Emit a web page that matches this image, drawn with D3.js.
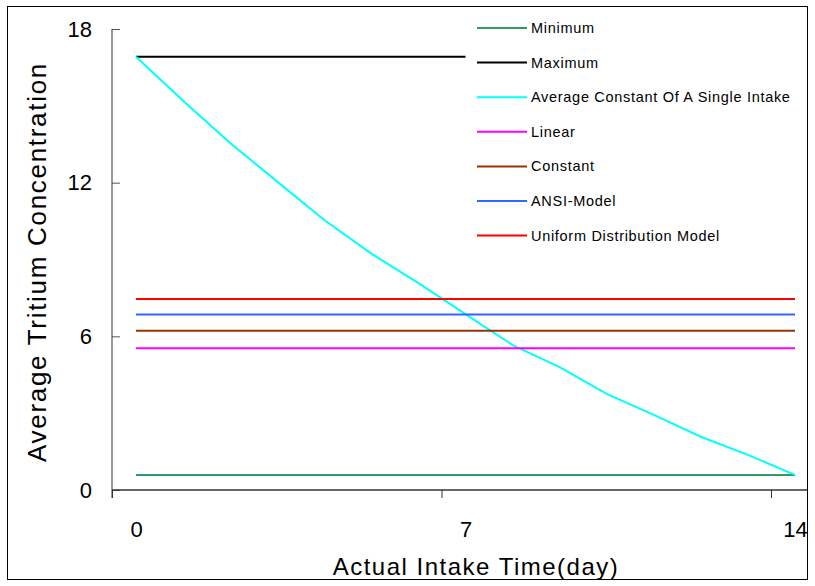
<!DOCTYPE html>
<html>
<head>
<meta charset="utf-8">
<script src="https://cdn.jsdelivr.net/npm/d3@7"></script>
<style>
  body { margin: 0; background: #fff; }
  svg { display: block; font-family: Arial, "Liberation Sans", sans-serif; }
</style>
</head>
<body>
<div id="chart"></div>
<script>
// values
const intakeDays = [0, 1, 2, 3, 4, 5, 6, 7, 8, 9, 10, 11, 12, 13, 14];
const singleIntakeValues = [16.92, 15.2, 13.55, 12.04, 10.54, 9.23, 8.08, 6.87, 5.66, 4.8, 3.75, 2.93, 2.08, 1.37, 0.59];

const fullSpanDays = [0, 14];
const halfSpanDays = [0, 7];
const minimumValues = [0.59, 0.59];
const maximumValues = [16.92, 16.92];
const linearValues = [5.53, 5.53];
const constantValues = [6.22, 6.22];
const ansiValues = [6.85, 6.85];
const uniformValues = [7.46, 7.46];

const seriesNames = [
  "Minimum",
  "Maximum",
  "Average Constant Of A Single Intake",
  "Linear",
  "Constant",
  "ANSI-Model",
  "Uniform Distribution Model"
];
const seriesColors = ["#339966", "#000000", "#00ffff", "#ff00ff", "#993300", "#3366ff", "#ff0000"];

const xTickValues = [0, 7, 14];
const yTickValues = [0, 6, 12, 18];
const xTitle = "Actual Intake Time(day)";
const yTitle = "Average Tritium Concentration";

const width = 815;
const height = 586;

function toPoints(days, values) {
  return days.map((d, i) => ({ day: d, value: values[i] }));
}

const series = [
  toPoints(fullSpanDays, minimumValues),
  toPoints(halfSpanDays, maximumValues),
  toPoints(intakeDays, singleIntakeValues),
  toPoints(fullSpanDays, linearValues),
  toPoints(fullSpanDays, constantValues),
  toPoints(fullSpanDays, ansiValues),
  toPoints(fullSpanDays, uniformValues)
];

function plot() {
  const axisLeft = 112;
  const axisBottom = 490;
  const categoryOffset = 24; // excel-style: labels sit between tick marks

  const svg = d3.select("#chart")
    .append("svg")
    .attr("width", width)
    .attr("height", height);

  // outer frame
  svg.append("rect")
    .attr("x", 7.5).attr("y", 6.5)
    .attr("width", 800).attr("height", 573)
    .attr("fill", "none")
    .attr("stroke", "#000")
    .attr("stroke-width", 1);

  const x = d3.scaleLinear()
    .domain([0, 14])
    .range([axisLeft + categoryOffset, 795]);

  const xTicks = x.copy().range(x.range().map(r => r - categoryOffset));

  const y = d3.scaleLinear()
    .domain([0, 18])
    .range([axisBottom, 29]);

  // y axis, ticks pointing inward
  svg.append("g")
    .attr("transform", `translate(${axisLeft},0)`)
    .call(d3.axisLeft(y).tickValues(yTickValues).tickSizeInner(-8).tickSizeOuter(0).tickPadding(20))
    .call(g => g.select(".domain").remove())
    .call(g => g.selectAll(".tick line").attr("stroke", "#555"))
    .call(g => g.selectAll(".tick text")
      .attr("font-size", 22)
      .attr("font-family", "Arial, 'Liberation Sans', sans-serif")
      .attr("fill", "#000"));

  svg.append("line")
    .attr("x1", axisLeft).attr("x2", axisLeft)
    .attr("y1", y(18)).attr("y2", axisBottom + 8)
    .attr("stroke", "#333");

  // x axis: labels under data positions, tick marks shifted left
  svg.append("g")
    .attr("transform", `translate(0,${axisBottom})`)
    .call(d3.axisBottom(x).tickValues(xTickValues).tickSize(0).tickPadding(31))
    .call(g => g.select(".domain").remove())
    .call(g => g.selectAll(".tick text")
      .attr("font-size", 22)
      .attr("font-family", "Arial, 'Liberation Sans', sans-serif")
      .attr("fill", "#000"));

  svg.append("g")
    .attr("transform", `translate(0,${axisBottom})`)
    .call(d3.axisBottom(xTicks).tickValues(xTickValues).tickFormat("").tickSizeInner(8).tickSizeOuter(0))
    .call(g => g.select(".domain").remove())
    .call(g => g.selectAll(".tick line").attr("stroke", "#333"));

  svg.append("line")
    .attr("x1", axisLeft).attr("x2", 807)
    .attr("y1", axisBottom).attr("y2", axisBottom)
    .attr("stroke", "#333")
    .attr("stroke-width", 1.5);

  // series lines
  const line = d3.line()
    .x(d => x(d.day))
    .y(d => y(d.value));

  svg.append("g")
    .attr("fill", "none")
    .attr("stroke-width", 2)
    .selectAll("path")
    .data(series)
    .join("path")
      .attr("stroke", (d, i) => seriesColors[i])
      .attr("d", line);

  // legend (no box)
  const legend = svg.append("g")
    .selectAll("g")
    .data(seriesNames)
    .join("g")
      .attr("transform", (d, i) => `translate(477,${28 + i * 34.6})`);

  legend.append("line")
    .attr("x1", 0).attr("x2", 50)
    .attr("stroke", (d, i) => seriesColors[i])
    .attr("stroke-width", 2);

  legend.append("text")
    .attr("x", 54)
    .attr("dy", "0.35em")
    .attr("font-size", 14.5)
    .attr("letter-spacing", 0.7)
    .attr("fill", "#000")
    .text(d => d);

  // axis titles
  svg.append("text")
    .attr("x", 476)
    .attr("y", 575)
    .attr("text-anchor", "middle")
    .attr("font-size", 24)
    .attr("letter-spacing", 1.5)
    .text(xTitle);

  svg.append("text")
    .attr("transform", `translate(46,262) rotate(-90)`)
    .attr("text-anchor", "middle")
    .attr("font-size", 26)
    .attr("letter-spacing", 1.7)
    .text(yTitle);
}

plot();
</script>
</body>
</html>
